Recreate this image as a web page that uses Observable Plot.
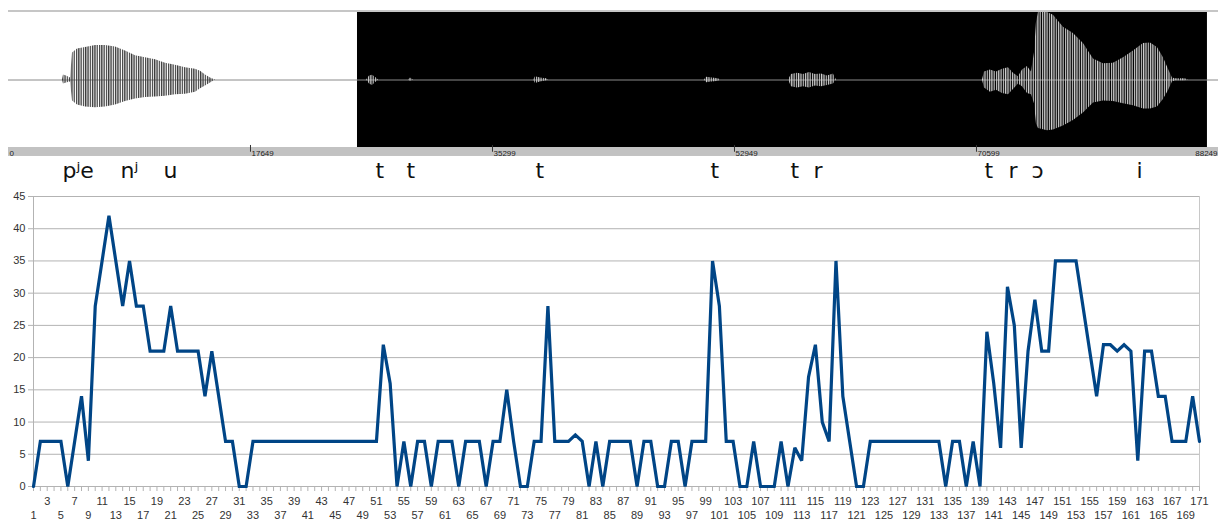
<!DOCTYPE html>
<html><head><meta charset="utf-8">
<script src="https://cdn.jsdelivr.net/npm/d3@7"></script>
<script src="https://cdn.jsdelivr.net/npm/@observablehq/plot@0.6"></script>
<style>
html,body{margin:0;padding:0;background:#fff;}
body{width:1225px;height:523px;overflow:hidden;position:relative;}
#wave{position:absolute;left:0;top:0;}
#chart{position:absolute;left:0;top:186px;}
svg{max-width:none !important;}
</style></head><body>
<svg width="0" height="0" style="position:absolute;left:0;top:0">
  <defs>
    <pattern id="stripesDark" x="0" y="0" width="2.3" height="10" patternUnits="userSpaceOnUse">
      <rect x="0" y="0" width="1.3" height="10" fill="#3c3c3c"></rect>
    </pattern>
    <pattern id="stripesLight" x="0" y="0" width="2.3" height="10" patternUnits="userSpaceOnUse">
      <rect x="0" y="0" width="1.2" height="10" fill="#d0d0d0"></rect>
    </pattern>
  </defs>
</svg>
<div id="wave"></div>
<div id="chart"></div>
<script>
// ---------- line chart data ----------
const counts = [
  0,7,7,7,7,0,7,14,4,28,
  35,42,35,28,35,28,28,21,21,21,
  28,21,21,21,21,14,21,14,7,7,
  0,0,7,7,7,7,7,7,7,7,
  7,7,7,7,7,7,7,7,7,7,
  7,22,16,0,7,0,7,7,0,7,
  7,7,0,7,7,7,0,7,7,15,
  7,0,0,7,7,28,7,7,7,8,
  7,0,7,0,7,7,7,7,0,7,
  7,0,0,7,7,0,7,7,7,35,
  28,7,7,0,0,7,0,0,0,7,
  0,6,4,17,22,10,7,35,14,7,
  0,0,7,7,7,7,7,7,7,7,
  7,7,7,0,7,7,0,7,0,24,
  16,6,31,25,6,21,29,21,21,35,
  35,35,35,28,21,14,22,22,21,22,
  21,4,21,21,14,14,7,7,7,14,
  7
];
const frames = counts.map((_, i) => i + 1);
const yTicks = [0,5,10,15,20,25,30,35,40,45];
const xTicksUpper = d3.range(3, 172, 4);
const xTicksLower = d3.range(1, 172, 4);

// ---------- waveform panel data ----------
const totalSamples = 88249;
const waveTicks = [0,17649,35299,52949,70599];
const waveEndTick = [88249];
const selStart = 25453, selEnd = 87443;

// first word envelope (unselected part)
const env1Pos = [3938,4011,4230,4522,4668,5032,5616,6345,7074,7804,8533,9262,9991,10721,11450,12179,12909,13638,14003,14367,14732,15097];
const env1Top = [0,0.075,0.06,0.03,0.40,0.46,0.48,0.51,0.51,0.49,0.43,0.36,0.33,0.30,0.25,0.22,0.18,0.16,0.13,0.075,0.03,0];
const env1Bot = [0,-0.06,-0.045,-0.03,-0.31,-0.37,-0.40,-0.41,-0.40,-0.37,-0.32,-0.28,-0.26,-0.25,-0.24,-0.22,-0.21,-0.18,-0.13,-0.09,-0.045,0];

// selected part envelope
const env2Pos = [26109,26328,26547,26765,26984,29172,29318,29537,38288,38434,38799,39236,39382,
  50759,50905,51343,51780,51926,56885,57104,57542,57979,58417,58855,59292,59730,60167,60386,
  71034,71180,71617,72055,72492,72930,73295,73659,73951,74316,74607,74826,74972,75118,75774,
  76212,76941,77670,78400,79129,79858,80588,81317,82046,82776,83286,83797,84234,84599,84891,
  85109,85839,86057];
const env2Top = [0,0.06,0.07,0.04,0,0,0.03,0,0,0.05,0.03,0.02,0,
  0,0.04,0.03,0.02,0,0,0.08,0.10,0.08,0.11,0.08,0.09,0.06,0.09,0,
  0,0.12,0.15,0.12,0.16,0.18,0.10,0.05,0.15,0.20,0.12,0.40,0.85,1.0,1.0,
  0.96,0.78,0.69,0.54,0.31,0.24,0.25,0.33,0.43,0.54,0.55,0.48,0.33,0.16,0.03,
  0.02,0.02,0];
const env2Bot = [0,-0.06,-0.08,-0.04,0,0,-0.02,0,0,-0.05,-0.03,-0.01,0,
  0,-0.04,-0.03,-0.02,0,0,-0.10,-0.12,-0.10,-0.12,-0.09,-0.10,-0.08,-0.06,0,
  0,-0.12,-0.18,-0.15,-0.20,-0.22,-0.14,-0.06,-0.10,-0.20,-0.22,-0.35,-0.65,-0.72,-0.75,
  -0.74,-0.68,-0.60,-0.49,-0.34,-0.31,-0.32,-0.35,-0.38,-0.43,-0.43,-0.40,-0.29,-0.16,-0.03,
  -0.01,-0.01,0];

// phonetic labels
const phones = ["pʲe","nʲ","u","t","t","t","t","t","r","t","r","ɔ","i"];
const phonePos = [3938,8168,11304,26765,29026,38434,51197,57031,58708,71180,72930,74607,82265];

const env1 = env1Pos.map((p, i) => ({p, top: env1Top[i], bot: env1Bot[i]}));
const env2 = env2Pos.map((p, i) => ({p, top: env2Top[i], bot: env2Bot[i]}));

const wave = Plot.plot({
  width: 1225, height: 190,
  marginTop: 12, marginBottom: 43, marginLeft: 8, marginRight: 7,
  x: {domain: [0, totalSamples], axis: null},
  y: {domain: [-1, 1], axis: null},
  style: {background: "transparent", overflow: "visible"},
  marks: [
    Plot.ruleY([1.022], {x1: 0, x2: totalSamples, stroke: "#c6c6c6", strokeWidth: 2}),
    Plot.rect([0], {x1: selStart, x2: selEnd, y1: -1, y2: 1, fill: "#000"}),
    Plot.rect([0], {x1: 0, x2: totalSamples, y1: -1, y2: -1.133, fill: "#c2c2c2"}),
    Plot.ruleY([0], {x1: 0, x2: totalSamples, stroke: "#8a8a8a", strokeWidth: 1}),
    Plot.areaY(env1, {x: "p", y1: "bot", y2: "top", fill: "url(#stripesDark)", curve: "linear"}),
    Plot.areaY(env2, {x: "p", y1: "bot", y2: "top", fill: "url(#stripesLight)", curve: "linear"}),
    Plot.ruleX(waveTicks.slice(1), {y1: -0.97, y2: -1.07, stroke: "#333", strokeWidth: 1}),
    Plot.text(waveTicks, {x: d => d, y: -1.085, text: d => String(d), textAnchor: "start", dx: 1,
      fontSize: 8, fill: "#222", fontFamily: "Liberation Sans, Arial, sans-serif"}),
    Plot.text(waveEndTick, {x: d => d, y: -1.085, text: d => String(d), textAnchor: "end", dx: -1,
      fontSize: 8, fill: "#222", fontFamily: "Liberation Sans, Arial, sans-serif"}),
    Plot.text(phones, {x: (d, i) => phonePos[i], frameAnchor: "bottom", dy: 30, text: d => d,
      textAnchor: "start", fontSize: 22, fill: "#111", fontFamily: "DejaVu Sans"})
  ]
});
document.getElementById("wave").appendChild(wave);

const chart = Plot.plot({
  width: 1225, height: 337,
  marginTop: 10, marginBottom: 37, marginLeft: 33, marginRight: 26,
  x: {domain: [1, 171], axis: null},
  y: {domain: [0, 45], axis: null},
  style: {background: "transparent", fontFamily: "Liberation Sans, Arial, sans-serif", fontSize: "11px", overflow: "visible"},
  marks: [
    Plot.gridY(yTicks, {stroke: "#b3b3b3", strokeOpacity: 1}),
    Plot.ruleX([1], {stroke: "#b3b3b3"}),
    Plot.ruleX([171], {stroke: "#c8c8c8"}),
    Plot.axisY(yTicks, {anchor: "left", tickSize: 5, tickPadding: 3, stroke: "#b3b3b3", fill: "#333", label: null}),
    Plot.axisX(frames, {anchor: "bottom", tickSize: 5, tickFormat: () => "", stroke: "#b3b3b3", label: null}),
    Plot.axisX(xTicksUpper, {anchor: "bottom", tickSize: 0, tickPadding: 11, fill: "#333", label: null, tickFormat: d => String(d)}),
    Plot.axisX(xTicksLower, {anchor: "bottom", tickSize: 0, tickPadding: 25, fill: "#333", label: null, tickFormat: d => String(d)}),
    Plot.line(frames, {x: d => d, y: (d, i) => counts[i], stroke: "#004586", strokeWidth: 3.2,
      strokeLinejoin: "miter", strokeMiterlimit: 3})
  ]
});
document.getElementById("chart").appendChild(chart);
</script>
</body></html>
